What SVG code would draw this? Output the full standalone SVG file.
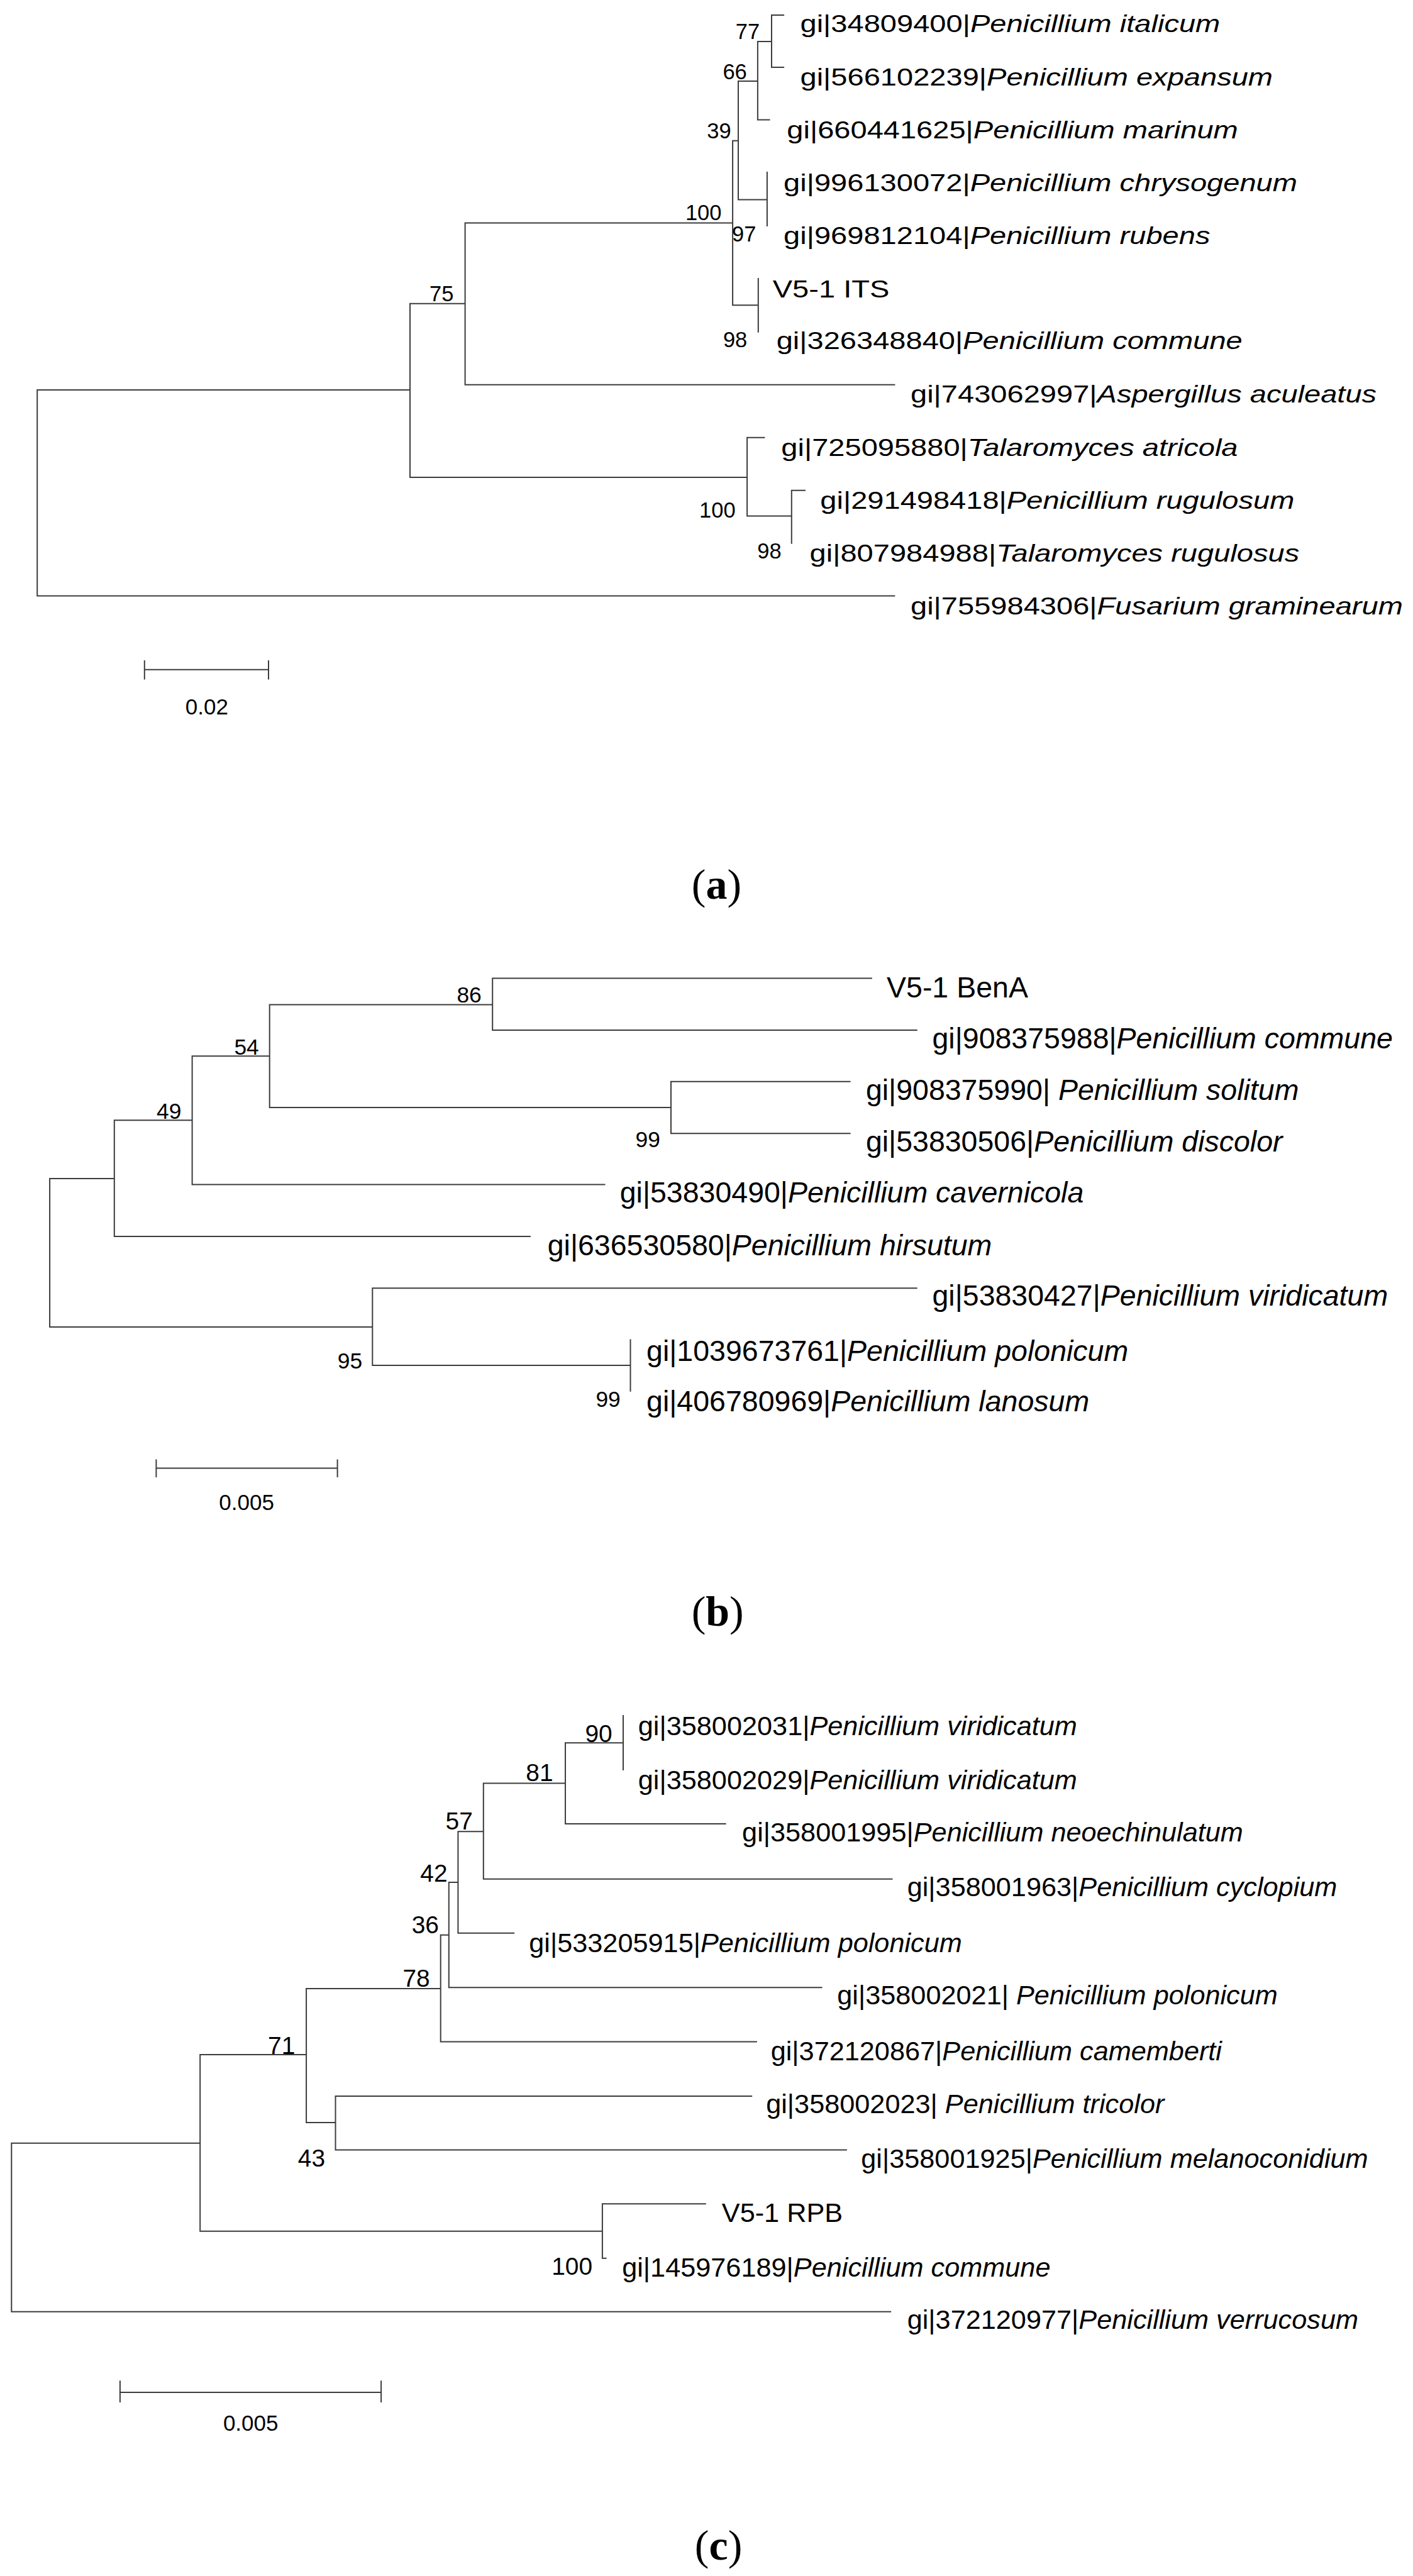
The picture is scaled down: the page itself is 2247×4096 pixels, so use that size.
<svg xmlns="http://www.w3.org/2000/svg" width="2247" height="4096" viewBox="0 0 2247 4096">
<style>
.br{fill:none;stroke:#3c3c3c;stroke-width:2;stroke-linecap:square}
text{font-family:"Liberation Sans",Arial,sans-serif;fill:#000}
.it{font-style:italic}
.tipa{font-size:38.9px}
.tipb{font-size:46.5px}
.tipc{font-size:42px}
.bsa{font-size:34.5px;text-anchor:middle}
.bsb{font-size:35.4px;text-anchor:middle}
.bsc{font-size:38.9px;text-anchor:middle}
.sc{font-size:35px;text-anchor:middle}
.panel{font-family:"Liberation Serif","Times New Roman",serif;font-size:68px;text-anchor:middle}
.bold{font-weight:bold}
</style>
<rect width="2247" height="4096" fill="#fff"/>

<!-- Tree (a) -->
<g id="tree-a">
<g id="a-connectors">
<path class="br" d="M59.2 620.1V947.6M59.2 620.1H652M59.2 947.6H1422.4M652 482.7V759M652 482.7H739.6M652 759H1188.1M739.6 354.5V611.7M739.6 611.7H1422.4M739.6 354.5H1165.1M1165.1 223.7V485.3M1165.1 223.7H1174M1174 129.1V317.4M1174 129.1H1204.9M1204.9 65.9V190.6M1204.9 190.6H1223.5M1204.9 65.9H1227M1227 23.9V107M1227 23.9H1246.1M1227 107H1246.1M1174 317.4H1219.9M1219.9 274V358.9M1165.1 485.3H1205.8M1205.8 442.9V527.7M1188.1 695.7V820.4M1188.1 695.7H1215.5M1188.1 820.4H1258.8M1258.8 779.7V863.7M1258.8 779.7H1280"/>
</g>
<g id="a-tip-italicum"><text class="tipa" transform="translate(1272.5 51.3) scale(1.21 1)">gi|34809400|<tspan class="it">Penicillium italicum</tspan></text></g>
<g id="a-tip-expansum"><text class="tipa" transform="translate(1272.5 135.6) scale(1.21 1)">gi|566102239|<tspan class="it">Penicillium expansum</tspan></text></g>
<g id="a-tip-marinum"><text class="tipa" transform="translate(1251.3 219.9) scale(1.21 1)">gi|660441625|<tspan class="it">Penicillium marinum</tspan></text></g>
<g id="a-tip-chrysogenum"><text class="tipa" transform="translate(1246.1 304.1) scale(1.21 1)">gi|996130072|<tspan class="it">Penicillium chrysogenum</tspan></text></g>
<g id="a-tip-rubens"><text class="tipa" transform="translate(1246.1 387.7) scale(1.21 1)">gi|969812104|<tspan class="it">Penicillium rubens</tspan></text></g>
<g id="a-tip-v51its"><text class="tipa" transform="translate(1228.7 472.8) scale(1.21 1)">V5-1 ITS</text></g>
<g id="a-tip-commune"><text class="tipa" transform="translate(1234.7 555.2) scale(1.21 1)">gi|326348840|<tspan class="it">Penicillium commune</tspan></text></g>
<g id="a-tip-aspergillus"><text class="tipa" transform="translate(1448 640.4) scale(1.21 1)">gi|743062997|<tspan class="it">Aspergillus aculeatus</tspan></text></g>
<g id="a-tip-atricola"><text class="tipa" transform="translate(1242.3 724.6) scale(1.21 1)">gi|725095880|<tspan class="it">Talaromyces atricola</tspan></text></g>
<g id="a-tip-rugulosum"><text class="tipa" transform="translate(1304.3 808.9) scale(1.21 1)">gi|291498418|<tspan class="it">Penicillium rugulosum</tspan></text></g>
<g id="a-tip-rugulosus"><text class="tipa" transform="translate(1287.6 893.2) scale(1.21 1)">gi|807984988|<tspan class="it">Talaromyces rugulosus</tspan></text></g>
<g id="a-tip-fusarium"><text class="tipa" transform="translate(1448 976.8) scale(1.21 1)">gi|755984306|<tspan class="it">Fusarium graminearum</tspan></text></g>
<g id="a-bs-77"><text class="bsa" x="1189" y="61.9">77</text></g>
<g id="a-bs-66"><text class="bsa" x="1168.6" y="125.5">66</text></g>
<g id="a-bs-39"><text class="bsa" x="1143.5" y="220.1">39</text></g>
<g id="a-bs-100a"><text class="bsa" x="1118.7" y="350.1">100</text></g>
<g id="a-bs-97"><text class="bsa" x="1183.2" y="384.1">97</text></g>
<g id="a-bs-98a"><text class="bsa" x="1169.1" y="551.6">98</text></g>
<g id="a-bs-75"><text class="bsa" x="702.3" y="479.1">75</text></g>
<g id="a-bs-100b"><text class="bsa" x="1140.8" y="823">100</text></g>
<g id="a-bs-98b"><text class="bsa" x="1223.5" y="887.5">98</text></g>
<g id="a-scale">
<path class="br" d="M229.8 1064.8H427M229.8 1051.1V1079.4M427 1051.1V1079.4"/>
<text class="sc" x="328.8" y="1135.9">0.02</text>
</g>
<g id="a-panel"><text class="panel" x="1139.5" y="1429.4">(<tspan class="bold">a</tspan>)</text></g>
</g>

<!-- Tree (b) -->
<g id="tree-b">
<g id="b-connectors">
<path class="br" d="M79.1 1874.1V2110.1M79.1 1874.1H181.8M79.1 2110.1H592.3M181.8 1781.3V1966M181.8 1966H842.8M181.8 1781.3H305.6M305.6 1679.2V1883.4M305.6 1883.4H961.5M305.6 1679.2H428.7M428.7 1597.4V1760.9M428.7 1597.4H783.2M783.2 1555.4V1637.9M783.2 1555.4H1385.9M783.2 1637.9H1457.7M428.7 1760.9H1067M1067 1719.7V1802.3M1067 1719.7H1351.6M1067 1802.3H1351.6M592.3 2048.2V2171.1M592.3 2048.2H1457.7M592.3 2171.1H1002.5M1002.5 2130.4V2211.8"/>
</g>
<g id="b-tip-v51bena"><text class="tipb" x="1410" y="1585.5">V5-1 BenA</text></g>
<g id="b-tip-commune"><text class="tipb" x="1482.5" y="1667.2">gi|908375988|<tspan class="it">Penicillium commune</tspan></text></g>
<g id="b-tip-solitum"><text class="tipb" x="1376.9" y="1748.9">gi|908375990| <tspan class="it">Penicillium solitum</tspan></text></g>
<g id="b-tip-discolor"><text class="tipb" x="1376.9" y="1830.8">gi|53830506|<tspan class="it">Penicillium discolor</tspan></text></g>
<g id="b-tip-cavernicola"><text class="tipb" x="985.7" y="1911.8">gi|53830490|<tspan class="it">Penicillium cavernicola</tspan></text></g>
<g id="b-tip-hirsutum"><text class="tipb" x="870.7" y="1996.1">gi|636530580|<tspan class="it">Penicillium hirsutum</tspan></text></g>
<g id="b-tip-viridicatum"><text class="tipb" x="1482.5" y="2075.6">gi|53830427|<tspan class="it">Penicillium viridicatum</tspan></text></g>
<g id="b-tip-polonicum"><text class="tipb" x="1028.1" y="2164">gi|1039673761|<tspan class="it">Penicillium polonicum</tspan></text></g>
<g id="b-tip-lanosum"><text class="tipb" x="1028.1" y="2243.6">gi|406780969|<tspan class="it">Penicillium lanosum</tspan></text></g>
<g id="b-bs-86"><text class="bsb" x="746.1" y="1593.9">86</text></g>
<g id="b-bs-54"><text class="bsb" x="392.1" y="1677">54</text></g>
<g id="b-bs-49"><text class="bsb" x="268.7" y="1779.2">49</text></g>
<g id="b-bs-99a"><text class="bsb" x="1030.3" y="1823.7">99</text></g>
<g id="b-bs-95"><text class="bsb" x="556.5" y="2175.5">95</text></g>
<g id="b-bs-99b"><text class="bsb" x="967.1" y="2236.5">99</text></g>
<g id="b-scale">
<path class="br" d="M248.4 2334.6H536.6M248.4 2321.4V2347.9M536.6 2321.4V2347.9"/>
<text class="sc" x="392.1" y="2400.9">0.005</text>
</g>
<g id="b-panel"><text class="panel" x="1141.2" y="2584.8">(<tspan class="bold">b</tspan>)</text></g>
</g>

<!-- Tree (c) -->
<g id="tree-c">
<g id="c-connectors">
<path class="br" d="M18.3 3407.8V3675.7M18.3 3407.8H318.2M18.3 3675.7H1416.2M318.2 3266.9V3547.8M318.2 3547.8H957.9M957.9 3504.2V3590.8M957.9 3504.2H1121.8M957.9 3590.8H963.6M318.2 3266.9H487.1M487.1 3161.9V3375.1M487.1 3375.1H533.5M533.5 3333.1V3418.4M533.5 3333.1H1195.2M533.5 3418.4H1345.9M487.1 3161.9H700.7M700.7 3076.7V3246.4M700.7 3246.4H1202.9M700.7 3076.7H713.8M713.8 2993V3160.3M713.8 3160.3H1306.6M713.8 2993H728.4M728.4 2912.3V3073.7M728.4 3073.7H817.2M728.4 2912.3H768.8M768.8 2835.4V2987.7M768.8 2987.7H1418.5M768.8 2835.4H899M899 2771.3V2900.1M899 2900.1H1153.6M899 2771.3H991M991 2728V2814.1"/>
</g>
<g id="c-tip-viridicatum1"><text class="tipc" transform="translate(1014.8 2759) scale(1.03 1)">gi|358002031|<tspan class="it">Penicillium viridicatum</tspan></text></g>
<g id="c-tip-viridicatum2"><text class="tipc" transform="translate(1014.8 2844.7) scale(1.03 1)">gi|358002029|<tspan class="it">Penicillium viridicatum</tspan></text></g>
<g id="c-tip-neoechinulatum"><text class="tipc" transform="translate(1180.1 2928.2) scale(1.03 1)">gi|358001995|<tspan class="it">Penicillium neoechinulatum</tspan></text></g>
<g id="c-tip-cyclopium"><text class="tipc" transform="translate(1442.7 3015.1) scale(1.03 1)">gi|358001963|<tspan class="it">Penicillium cyclopium</tspan></text></g>
<g id="c-tip-polonicum1"><text class="tipc" transform="translate(841.3 3103.7) scale(1.03 1)">gi|533205915|<tspan class="it">Penicillium polonicum</tspan></text></g>
<g id="c-tip-polonicum2"><text class="tipc" transform="translate(1331.3 3186.8) scale(1.03 1)">gi|358002021| <tspan class="it">Penicillium polonicum</tspan></text></g>
<g id="c-tip-camemberti"><text class="tipc" transform="translate(1225.7 3276.1) scale(1.03 1)">gi|372120867|<tspan class="it">Penicillium camemberti</tspan></text></g>
<g id="c-tip-tricolor"><text class="tipc" transform="translate(1218.2 3360.3) scale(1.03 1)">gi|358002023| <tspan class="it">Penicillium tricolor</tspan></text></g>
<g id="c-tip-melanoconidium"><text class="tipc" transform="translate(1369.3 3446.5) scale(1.03 1)">gi|358001925|<tspan class="it">Penicillium melanoconidium</tspan></text></g>
<g id="c-tip-v51rpb"><text class="tipc" transform="translate(1147.8 3532.5) scale(1.03 1)">V5-1 RPB</text></g>
<g id="c-tip-commune"><text class="tipc" transform="translate(989.2 3620) scale(1.03 1)">gi|145976189|<tspan class="it">Penicillium commune</tspan></text></g>
<g id="c-tip-verrucosum"><text class="tipc" transform="translate(1442.7 3703.1) scale(1.03 1)">gi|372120977|<tspan class="it">Penicillium verrucosum</tspan></text></g>
<g id="c-bs-90"><text class="bsc" x="952.1" y="2770">90</text></g>
<g id="c-bs-81"><text class="bsc" x="857.9" y="2832.3">81</text></g>
<g id="c-bs-57"><text class="bsc" x="730.2" y="2909.2">57</text></g>
<g id="c-bs-42"><text class="bsc" x="690" y="2992.2">42</text></g>
<g id="c-bs-36"><text class="bsc" x="676.3" y="3074.4">36</text></g>
<g id="c-bs-78"><text class="bsc" x="662.1" y="3158.9">78</text></g>
<g id="c-bs-71"><text class="bsc" x="447.7" y="3265.5">71</text></g>
<g id="c-bs-43"><text class="bsc" x="495.5" y="3444.9">43</text></g>
<g id="c-bs-100"><text class="bsc" x="909.6" y="3617.1">100</text></g>
<g id="c-scale">
<path class="br" d="M190.9 3803.9H606.1M190.9 3786.2V3818.9M606.1 3786.2V3818.9"/>
<text class="sc" x="398.7" y="3864.8">0.005</text>
</g>
<g id="c-panel"><text class="panel" x="1142.6" y="4069.9">(<tspan class="bold">c</tspan>)</text></g>
</g>
</svg>
